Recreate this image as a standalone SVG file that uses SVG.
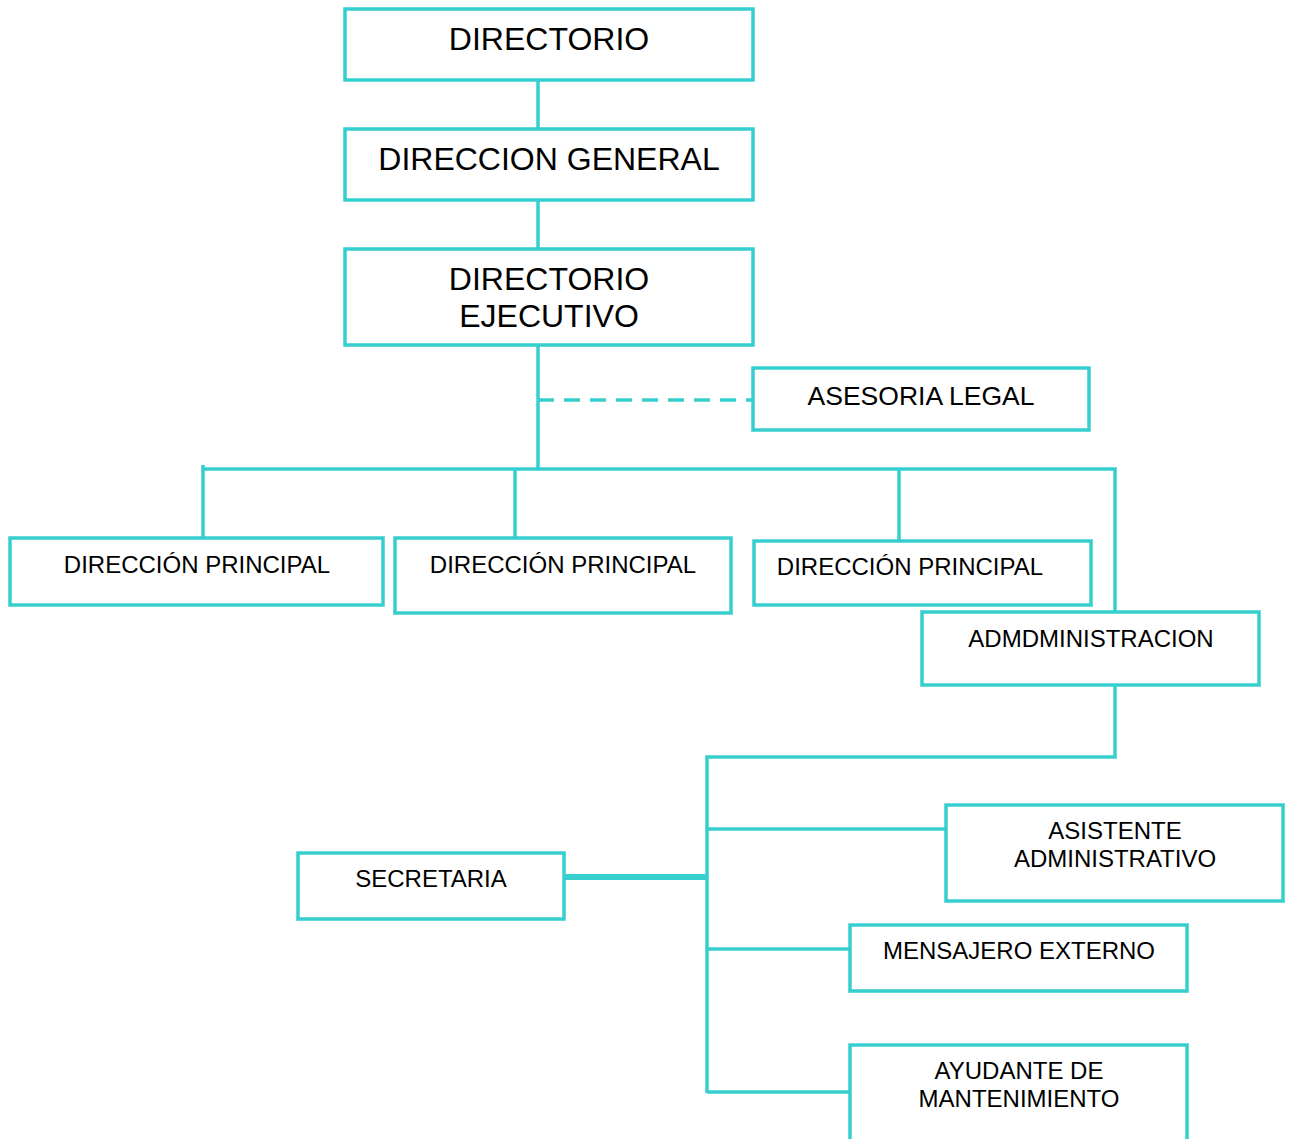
<svg xmlns="http://www.w3.org/2000/svg" width="1291" height="1139" viewBox="0 0 1291 1139">
<style>
.box{fill:#fff;stroke:#36CECE;stroke-width:3.5}
.ln{fill:none;stroke:#36CECE;stroke-width:3.5}
.thick{stroke-width:6}
.t{font-family:"Liberation Sans",Arial,sans-serif;fill:#000;text-anchor:middle}
.big{font-size:32px}
.med{font-size:26.5px}
.sm{font-size:24px}
</style>
<rect width="1291" height="1139" fill="#fff"/>
<g id="connectors">
<line class="ln" x1="538" y1="80" x2="538" y2="129"/>
<line class="ln" x1="538" y1="200" x2="538" y2="249"/>
<line class="ln" x1="538" y1="345" x2="538" y2="469"/>
<line class="ln" x1="538" y1="400" x2="752" y2="400" stroke-dasharray="16,10"/>
<polyline class="ln" points="203,465 203,469 1115,469 1115,612"/>
<line class="ln" x1="203" y1="469" x2="203" y2="538"/>
<line class="ln" x1="515" y1="469" x2="515" y2="538"/>
<line class="ln" x1="899" y1="469" x2="899" y2="541"/>
<polyline class="ln" points="1115,685 1115,757 707,757 707,1093"/>
<line class="ln" x1="707" y1="829" x2="946" y2="829"/>
<line class="ln thick" x1="564" y1="877" x2="707" y2="877"/>
<line class="ln" x1="707" y1="949" x2="850" y2="949"/>
<line class="ln" x1="707" y1="1092" x2="850" y2="1092"/>
</g>
<g id="directorio">
<rect class="box" x="345" y="9" width="408" height="71"/>
<text class="t big" x="549" y="50">DIRECTORIO</text>
</g>
<g id="direccion-general">
<rect class="box" x="345" y="129" width="408" height="71"/>
<text class="t big" x="549" y="170">DIRECCION GENERAL</text>
</g>
<g id="directorio-ejecutivo">
<rect class="box" x="345" y="249" width="408" height="96"/>
<text class="t big" x="549" y="290">DIRECTORIO</text>
<text class="t big" x="549" y="327">EJECUTIVO</text>
</g>
<g id="asesoria-legal">
<rect class="box" x="753" y="368" width="336" height="62"/>
<text class="t med" x="921" y="405">ASESORIA LEGAL</text>
</g>
<g id="direccion-principal-1">
<rect class="box" x="10" y="538" width="373" height="67"/>
<text class="t sm" x="197" y="573">DIRECCIÓN PRINCIPAL</text>
</g>
<g id="direccion-principal-2">
<rect class="box" x="395" y="538" width="336" height="75"/>
<text class="t sm" x="563" y="573">DIRECCIÓN PRINCIPAL</text>
</g>
<g id="direccion-principal-3">
<rect class="box" x="754" y="541" width="337" height="64"/>
<text class="t sm" x="910" y="575">DIRECCIÓN PRINCIPAL</text>
</g>
<g id="administracion">
<rect class="box" x="922" y="612" width="337" height="73"/>
<text class="t sm" x="1091" y="647">ADMDMINISTRACION</text>
</g>
<g id="asistente-administrativo">
<rect class="box" x="946" y="805" width="337" height="96"/>
<text class="t sm" x="1115" y="839">ASISTENTE</text>
<text class="t sm" x="1115" y="867">ADMINISTRATIVO</text>
</g>
<g id="secretaria">
<rect class="box" x="298" y="853" width="266" height="66"/>
<text class="t sm" x="431" y="887">SECRETARIA</text>
</g>
<g id="mensajero-externo">
<rect class="box" x="850" y="925" width="337" height="66"/>
<text class="t sm" x="1019" y="959">MENSAJERO EXTERNO</text>
</g>
<g id="ayudante-mantenimiento">
<rect class="box" x="850" y="1045" width="337" height="110"/>
<text class="t sm" x="1019" y="1079">AYUDANTE DE</text>
<text class="t sm" x="1019" y="1107">MANTENIMIENTO</text>
</g>
</svg>
